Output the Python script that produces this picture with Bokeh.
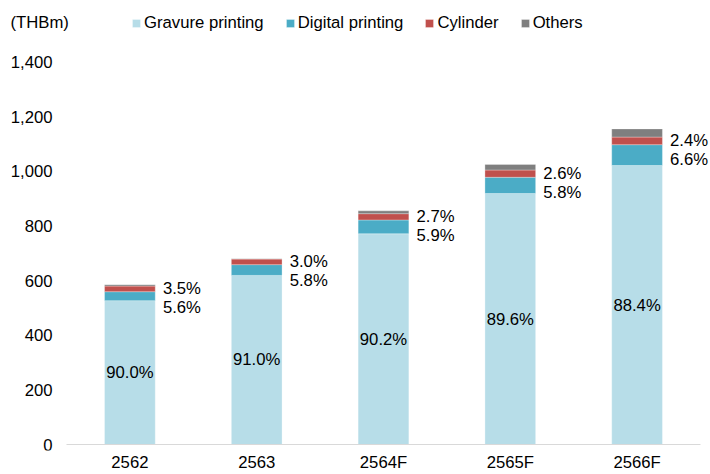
from bokeh.plotting import figure
from bokeh.models import (Range1d, FixedTicker, Legend, LegendItem, Label,
                          ColumnDataSource)
from bokeh.core.properties import value
from bokeh.embed import file_html
from bokeh.resources import INLINE

# ---- data ----
years = ["2562", "2563", "2564F", "2565F", "2566F"]
totals = [585, 680, 855, 1025, 1155]            # THB m
gravure_pct = [90.0, 91.0, 90.2, 89.6, 88.4]
digital_pct = [5.6, 5.8, 5.9, 5.8, 6.6]
cylinder_pct = [3.5, 3.0, 2.7, 2.6, 2.4]
others_pct = [0.9, 0.2, 1.2, 2.0, 2.6]
y_ticks = [0, 200, 400, 600, 800, 1000, 1200, 1400]
unit_label = "(THBm)"

series_names = ["Gravure printing", "Digital printing", "Cylinder", "Others"]
colors = ["#B7DDE8", "#4BACC6", "#C0504D", "#7F7F7F"]

FONT = "Liberation Sans"
FS = "16.7px"

xs = list(range(len(years)))
gra = [t * p / 100 for t, p in zip(totals, gravure_pct)]
dig = [t * p / 100 for t, p in zip(totals, digital_pct)]
cyl = [t * p / 100 for t, p in zip(totals, cylinder_pct)]
oth = [t * p / 100 for t, p in zip(totals, others_pct)]

b0 = [0] * len(xs)
b1 = gra
b2 = [a + b for a, b in zip(b1, dig)]
b3 = [a + b for a, b in zip(b2, cyl)]
b4 = [a + b for a, b in zip(b3, oth)]

src = ColumnDataSource(dict(
    x=xs, b0=b0, b1=b1, b2=b2, b3=b3, b4=b4,
    gmid=[v / 2 for v in gra],
    cmid=[(a + b) / 2 for a, b in zip(b2, b3)],
    glab=[f"{v:.1f}%" for v in gravure_pct],
    dlab=[f"{v:.1f}%" for v in digital_pct],
    clab=[f"{v:.1f}%" for v in cylinder_pct],
))

FRAME_H = 452
p = figure(width=710, height=474, output_backend="svg", toolbar_location=None,
           x_range=Range1d(-1.0205, 4.579),
           y_range=Range1d(-21.9, 1624.8),
           min_border_left=0, min_border_right=0, min_border_top=0,
           min_border_bottom=22)
p.outline_line_color = None
p.xgrid.grid_line_color = None
p.ygrid.grid_line_color = None

W = 0.40
renderers = []
pairs = [("b0", "b1"), ("b1", "b2"), ("b2", "b3"), ("b3", "b4")]
for (lo, hi), c in zip(pairs, colors):
    r = p.vbar(x="x", bottom=lo, top=hi, width=W, source=src, fill_color=c,
               line_color="white", line_width=0.6, line_alpha=0.5)
    renderers.append(r)

# baseline
p.segment(x0=[-0.5], x1=[len(years) - 0.5], y0=[0], y1=[0],
          line_color="#D9D9D9", line_width=1.2)

# value labels
p.text(x="x", y="gmid", text="glab", source=src, text_align="center",
       text_baseline="middle", text_font=value(FONT), text_font_size=FS,
       text_color="black")
p.text(x="x", y="cmid", text="clab", source=src, text_align="left",
       text_baseline="middle", x_offset=33, y_offset=0,
       text_font=value(FONT), text_font_size=FS, text_color="black")
p.text(x="x", y="cmid", text="dlab", source=src, text_align="left",
       text_baseline="middle", x_offset=33, y_offset=19,
       text_font=value(FONT), text_font_size=FS, text_color="black")

# y tick labels (value axis, no line/ticks), placed left of the category area
p.text(x=[-0.5] * len(y_ticks), y=y_ticks, text=[f"{v:,}" for v in y_ticks],
       text_align="right", text_baseline="middle", x_offset=-14,
       text_font=value(FONT), text_font_size=FS, text_color="black")
p.yaxis.visible = False

# x axis
p.xaxis.ticker = FixedTicker(ticks=xs)
p.xaxis.major_label_overrides = {i: y for i, y in enumerate(years)}
p.xaxis.axis_line_color = None
p.xaxis.major_tick_line_color = None
p.xaxis.minor_tick_line_color = None
p.xaxis.major_tick_out = 0
p.xaxis.major_tick_in = 0
p.xaxis.minor_tick_out = 0
p.xaxis.major_label_standoff = 2
p.xaxis.major_label_text_font = FONT
p.xaxis.major_label_text_font_size = FS
p.xaxis.major_label_text_color = "black"

legend = Legend(items=[LegendItem(label=n, renderers=[r])
                       for n, r in zip(series_names, renderers)],
                orientation="horizontal", location=(131, FRAME_H - 35),
                glyph_width=10, glyph_height=10, label_standoff=3,
                spacing=21, padding=0, margin=0, label_height=18,
                label_text_font=FONT, label_text_font_size=FS,
                label_text_color="black", border_line_color=None,
                background_fill_alpha=0)
p.add_layout(legend)

p.add_layout(Label(x=10, y=FRAME_H - 24, x_units="screen", y_units="screen",
                   text=unit_label, text_baseline="middle", text_font=FONT,
                   text_font_size=FS, text_color="black"))

open("out.html", "w").write(file_html(p, INLINE))
